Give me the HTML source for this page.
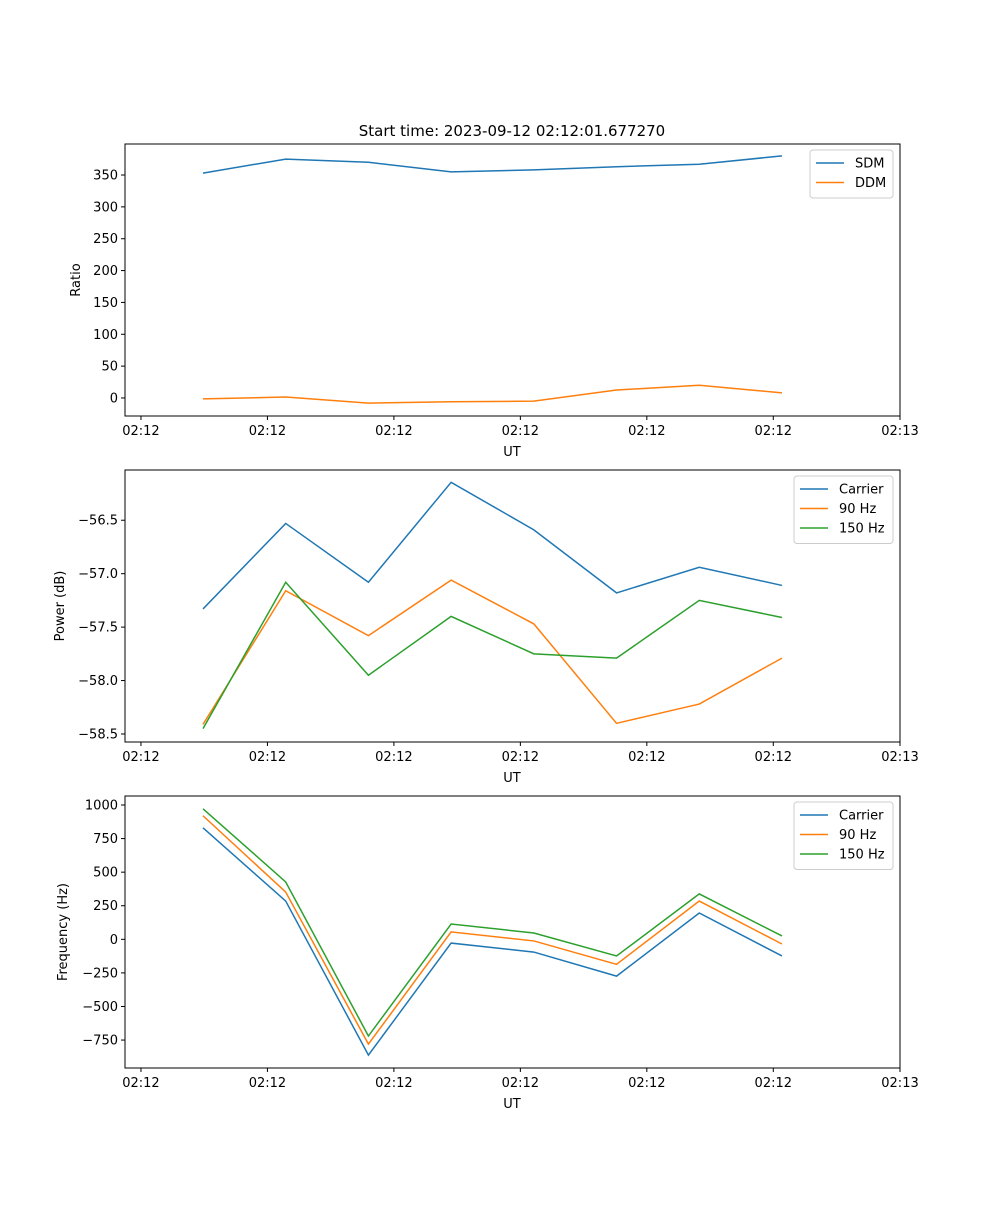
<!DOCTYPE html>
<html><head><meta charset="utf-8"><style>
body{margin:0;background:#fff;}
svg{font-family:"DejaVu Sans","Liberation Sans",sans-serif;}
</style></head><body>
<svg id="fig" width="1000" height="1200" xmlns="http://www.w3.org/2000/svg">
<text x="512" y="136" font-size="15" text-anchor="middle">Start time: 2023-09-12 02:12:01.677270</text>
</svg>
<script>
const xIndex=[0,1,2,3,4,5,6,7];
const xTickVals=[-0.75,0.779,2.308,3.837,5.366,6.895,8.427];
const xTickLabels=['02:12','02:12','02:12','02:12','02:12','02:12','02:13'];
const sdm=[353,375,370,355,358,363,367,380];
const ddm=[-1.5,1.5,-8,-6,-5,12.5,20,8];
const pCarrier=[-57.33,-56.53,-57.08,-56.145,-56.59,-57.18,-56.94,-57.11];
const p90=[-58.41,-57.16,-57.58,-57.06,-57.47,-58.40,-58.22,-57.79];
const p150=[-58.45,-57.08,-57.95,-57.40,-57.75,-57.79,-57.25,-57.41];
const fCarrier=[830,285,-862,-28,-95,-274,196,-124];
const f90=[920,352,-780,55,-12,-186,285,-35];
const f150=[972,427,-720,114,47,-124,338,25];
const ticks1=[0,50,100,150,200,250,300,350];
const ticks2=[-58.5,-58.0,-57.5,-57.0,-56.5];
const ticks3=[-750,-500,-250,0,250,500,750,1000];
const svg=document.getElementById('fig');
const NS='http://www.w3.org/2000/svg';
function mk(tag,attrs,parent){const e=document.createElementNS(NS,tag);for(const k in attrs)e.setAttribute(k,attrs[k]);(parent||svg).appendChild(e);return e;}
const L=125,R=900,xmin=-0.943,xmax=8.427;
const sx=v=>L+(v-xmin)/(xmax-xmin)*(R-L);
const C={b:'#1f77b4',o:'#ff7f0e',g:'#2ca02c'};
function panel(id,top,bot,ymin,ymax,yt,fmt,ylabel,ylx,series,legW){
  const g=mk('g',{});
  
  
  const sy=v=>bot-(v-ymin)/(ymax-ymin)*(bot-top);
  series.forEach(s=>{
    const p=mk('polyline',{points:xIndex.map((x,i)=>sx(x)+','+sy(s.d[i])).join(' '),fill:'none',stroke:s.c,'stroke-width':1.5},g);
    
    
  });
  const fr=mk('rect',{x:L,y:top,width:R-L,height:bot-top,fill:'none',stroke:'#000','stroke-width':1},g);
  
  
  xTickVals.forEach((v,i)=>{
    mk('line',{x1:sx(v),x2:sx(v),y1:bot,y2:bot+4,stroke:'#000'},g);
    const t=mk('text',{x:sx(v),y:bot+19,'font-size':13,'text-anchor':'middle'},g);t.textContent=xTickLabels[i];
    
    
  });
  yt.forEach(v=>{
    mk('line',{x1:L-4,x2:L,y1:sy(v),y2:sy(v),stroke:'#000'},g);
    const t=mk('text',{x:L-7,y:sy(v)+4.5,'font-size':13,'text-anchor':'end'},g);t.textContent=fmt(v);
    
    
  });
  const xl=mk('text',{x:512,y:bot+40,'font-size':13,'text-anchor':'middle'},g);xl.textContent='UT';
  
  
  const cy=(top+bot)/2;
  const yl=mk('text',{x:ylx,y:cy,'font-size':13,'text-anchor':'middle',transform:'rotate(-90 '+ylx+' '+cy+')'},g);yl.textContent=ylabel;
  
  
  const lx=R-7-legW,ly=top+6,lh=series.length*19.5+9;
  const lg=mk('g',{},g);
  
  
  mk('rect',{x:lx,y:ly,width:legW,height:lh,rx:3,fill:'#fff',stroke:'#ccc'},lg);
  series.forEach((s,i)=>{
    const yy=ly+13+i*19.5;
    mk('line',{x1:lx+6,x2:lx+34,y1:yy,y2:yy,stroke:s.c,'stroke-width':1.5},lg);
    const t=mk('text',{x:lx+45,y:yy+4.5,'font-size':13},lg);t.textContent=s.label;
    
    
  });
}
panel('ratio-panel',144,416,-28.3,398.7,ticks1,v=>String(v),'Ratio',80,
  [{n:'sdm',d:sdm,c:C.b,label:'SDM'},{n:'ddm',d:ddm,c:C.o,label:'DDM'}],83);
panel('power-panel',470,742,-58.575,-56.03,ticks2,v=>v.toFixed(1).replace('-','−'),'Power (dB)',64,
  [{n:'carrier',d:pCarrier,c:C.b,label:'Carrier'},{n:'90hz',d:p90,c:C.o,label:'90 Hz'},{n:'150hz',d:p150,c:C.g,label:'150 Hz'}],99);
panel('frequency-panel',796,1068,-958,1067,ticks3,v=>String(v).replace('-','−'),'Frequency (Hz)',67,
  [{n:'carrier',d:fCarrier,c:C.b,label:'Carrier'},{n:'90hz',d:f90,c:C.o,label:'90 Hz'},{n:'150hz',d:f150,c:C.g,label:'150 Hz'}],99);
</script>
</body></html>
